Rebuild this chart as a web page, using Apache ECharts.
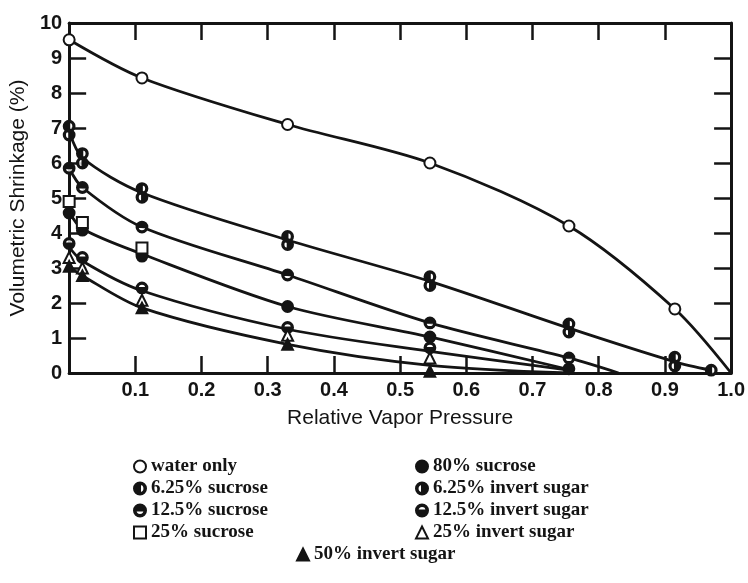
<!DOCTYPE html>
<html>
<head>
<meta charset="utf-8">
<script src="https://cdn.jsdelivr.net/npm/echarts@6/dist/echarts.min.js"></script>
<style>
  html, body { margin: 0; padding: 0; background: #fff; }
  #chart { width: 748px; height: 583px; }
</style>
</head>
<body>
<div id="chart"></div>
<script>
// Volumetric shrinkage (%) against relative vapor pressure for each treatment.

// Measured points, one x/y pair of arrays per treatment
const waterX = [0, 0.11, 0.33, 0.545, 0.755, 0.915];
const waterY = [9.52, 8.43, 7.1, 6.0, 4.2, 1.83];

const suc625X = [0, 0.02, 0.11, 0.33, 0.545, 0.755, 0.915, 0.97];
const suc625Y = [7.05, 6.27, 5.27, 3.9, 2.75, 1.4, 0.45, 0.08];

const inv625X = [0, 0.02, 0.11, 0.33, 0.545, 0.755, 0.915];
const inv625Y = [6.8, 6.0, 5.02, 3.67, 2.5, 1.17, 0.2];

const suc125X = [0, 0.02, 0.11, 0.33, 0.545, 0.755];
const suc125Y = [5.85, 5.3, 4.17, 2.8, 1.43, 0.43];

const suc80X = [0, 0.02, 0.11, 0.33, 0.545, 0.755];
const suc80Y = [4.57, 4.08, 3.34, 1.9, 1.03, 0.12];

const suc25X = [0, 0.02, 0.11];
const suc25Y = [4.9, 4.3, 3.57];

const inv125X = [0, 0.02, 0.11, 0.33, 0.545];
const inv125Y = [3.7, 3.3, 2.43, 1.3, 0.72];

const inv25X = [0, 0.02, 0.11, 0.33, 0.545];
const inv25Y = [3.3, 3.0, 2.08, 1.08, 0.43];

const inv50X = [0, 0.02, 0.11, 0.33, 0.545];
const inv50Y = [3.05, 2.78, 1.86, 0.82, 0.05];

// Smoothed trend curves drawn through the groups of treatments
const fitWaterX = [0, 0.11, 0.33, 0.545, 0.755, 0.915, 1.0];
const fitWaterY = [9.52, 8.43, 7.1, 6.0, 4.2, 1.83, 0];

const fit625X = [0, 0.02, 0.11, 0.33, 0.545, 0.755, 0.915, 0.97];
const fit625Y = [6.9, 6.15, 5.15, 3.8, 2.62, 1.28, 0.32, 0.08];

const fit125X = [0, 0.02, 0.11, 0.33, 0.545, 0.755, 0.83];
const fit125Y = [5.85, 5.3, 4.17, 2.8, 1.43, 0.43, 0];

const fit80X = [0, 0.02, 0.11, 0.33, 0.545, 0.755];
const fit80Y = [4.6, 4.12, 3.4, 1.9, 1.03, 0.1];

const fitMidX = [0, 0.02, 0.11, 0.33, 0.545, 0.755];
const fitMidY = [3.6, 3.2, 2.35, 1.25, 0.62, 0.08];

const fitLowX = [0, 0.02, 0.11, 0.33, 0.545, 0.755];
const fitLowY = [3.05, 2.78, 1.86, 0.82, 0.22, 0];

// Axis ranges
const xMin = 0, xMax = 1, xStep = 0.1;
const yMin = 0, yMax = 10, yStep = 1;

const INK = '#141414';

// Circle outline with one half filled (20x20 box)
const RING = 'M10 0 A10 10 0 1 1 10 20 A10 10 0 1 1 10 0 Z M10 2.6 A7.4 7.4 0 1 0 10 17.4 A7.4 7.4 0 1 0 10 2.6 Z ';
const HALF_LEFT = 'path://' + RING + 'M10 17.4 A7.4 7.4 0 0 1 10 2.6 Z';
const HALF_RIGHT = 'path://' + RING + 'M10 2.6 A7.4 7.4 0 0 1 10 17.4 Z';
const HALF_TOP = 'path://' + RING + 'M2.6 10 A7.4 7.4 0 0 1 17.4 10 Z';
const HALF_BOTTOM = 'path://' + RING + 'M17.4 10 A7.4 7.4 0 0 1 2.6 10 Z';

const pts = (xs, ys) => xs.map((x, i) => [x, ys[i]]);

const MARK = 11;

function curve(name, xs, ys) {
  return {
    name, type: 'line', data: pts(xs, ys), smooth: 0.3,
    showSymbol: false, symbol: 'none', silent: true, z: 2,
    lineStyle: { color: INK, width: 2.8 }
  };
}
function marks(name, xs, ys, symbol) {
  return {
    name, type: 'scatter', data: pts(xs, ys), symbol, symbolSize: MARK, z: 5,
    itemStyle: { color: INK, borderColor: INK, borderWidth: 1.8, opacity: 1 }
  };
}
// white disc under a half-filled marker so the curve does not show through
function backing(name, xs, ys) {
  return {
    name, type: 'scatter', data: pts(xs, ys), symbol: 'circle', symbolSize: MARK - 1, z: 4,
    silent: true, itemStyle: { color: '#fff' }
  };
}

const legendText = { fontFamily: 'Liberation Serif', fontWeight: 'bold', fontSize: 19, color: INK, lineHeight: 18 };
const legendBase = {
  orient: 'vertical', itemWidth: 12, itemHeight: 12, itemGap: 4,
  selectedMode: false, textStyle: legendText, padding: 0
};

const tickFont = { fontFamily: 'Liberation Sans', fontWeight: 'bold', fontSize: 20, color: INK };
const nameFont = { fontFamily: 'Liberation Sans', fontSize: 21, color: INK };
const axisLine = { show: true, onZero: false, lineStyle: { color: INK, width: 3 } };
const axisTick = { show: true, inside: true, length: 17, lineStyle: { color: INK, width: 2.5 } };

const chart = echarts.init(document.getElementById('chart'), null, { renderer: 'canvas' });
chart.setOption({
  backgroundColor: '#fff',
  animation: false,
  grid: { left: 68, right: 11, top: 23, bottom: 210, containLabel: false },
  xAxis: [
    {
      type: 'value', position: 'bottom', min: xMin, max: xMax, interval: xStep,
      axisLine, axisTick, splitLine: { show: false },
      axisLabel: {
        ...tickFont, margin: 7,
        formatter: v => (v === 0 ? '' : v.toFixed(1))
      },
      name: 'Relative Vapor Pressure', nameLocation: 'middle', nameGap: 35, nameTextStyle: nameFont
    },
    {
      type: 'value', position: 'top', min: xMin, max: xMax, interval: xStep,
      axisLine, axisTick, axisLabel: { show: false }, splitLine: { show: false }
    }
  ],
  yAxis: [
    {
      type: 'value', position: 'left', min: yMin, max: yMax, interval: yStep,
      axisLine, axisTick, splitLine: { show: false },
      axisLabel: { ...tickFont, margin: 7 },
      name: 'Volumetric Shrinkage (%)', nameLocation: 'middle', nameGap: 38, nameTextStyle: nameFont
    },
    {
      type: 'value', position: 'right', min: yMin, max: yMax, interval: yStep,
      axisLine, axisTick, axisLabel: { show: false }, splitLine: { show: false }
    }
  ],
  legend: [
    { ...legendBase, left: 133, top: 457, itemGap: 3,
      data: ['water only', '6.25% sucrose', '12.5% sucrose', '25% sucrose'] },
    { ...legendBase, left: 415, top: 457, itemGap: 3,
      data: ['80% sucrose', '6.25% invert sugar', '12.5% invert sugar', '25% invert sugar'] },
    { ...legendBase, left: 296, top: 545, data: ['50% invert sugar'] }
  ],
  series: [
    curve('fit water', fitWaterX, fitWaterY),
    curve('fit 6.25', fit625X, fit625Y),
    curve('fit 12.5', fit125X, fit125Y),
    curve('fit 80', fit80X, fit80Y),
    curve('fit mid', fitMidX, fitMidY),
    curve('fit low', fitLowX, fitLowY),

    backing('disc 6.25s', suc625X, suc625Y),
    backing('disc 6.25i', inv625X, inv625Y),
    backing('disc 12.5s', suc125X, suc125Y),
    backing('disc 12.5i', inv125X, inv125Y),

    marks('water only', waterX, waterY, 'emptyCircle'),
    marks('80% sucrose', suc80X, suc80Y, 'circle'),
    marks('6.25% sucrose', suc625X, suc625Y, HALF_LEFT),
    marks('6.25% invert sugar', inv625X, inv625Y, HALF_RIGHT),
    marks('12.5% sucrose', suc125X, suc125Y, HALF_TOP),
    marks('12.5% invert sugar', inv125X, inv125Y, HALF_BOTTOM),
    marks('25% sucrose', suc25X, suc25Y, 'emptyRect'),
    marks('25% invert sugar', inv25X, inv25Y, 'emptyTriangle'),
    marks('50% invert sugar', inv50X, inv50Y, 'triangle')
  ]
});
</script>
</body>
</html>
